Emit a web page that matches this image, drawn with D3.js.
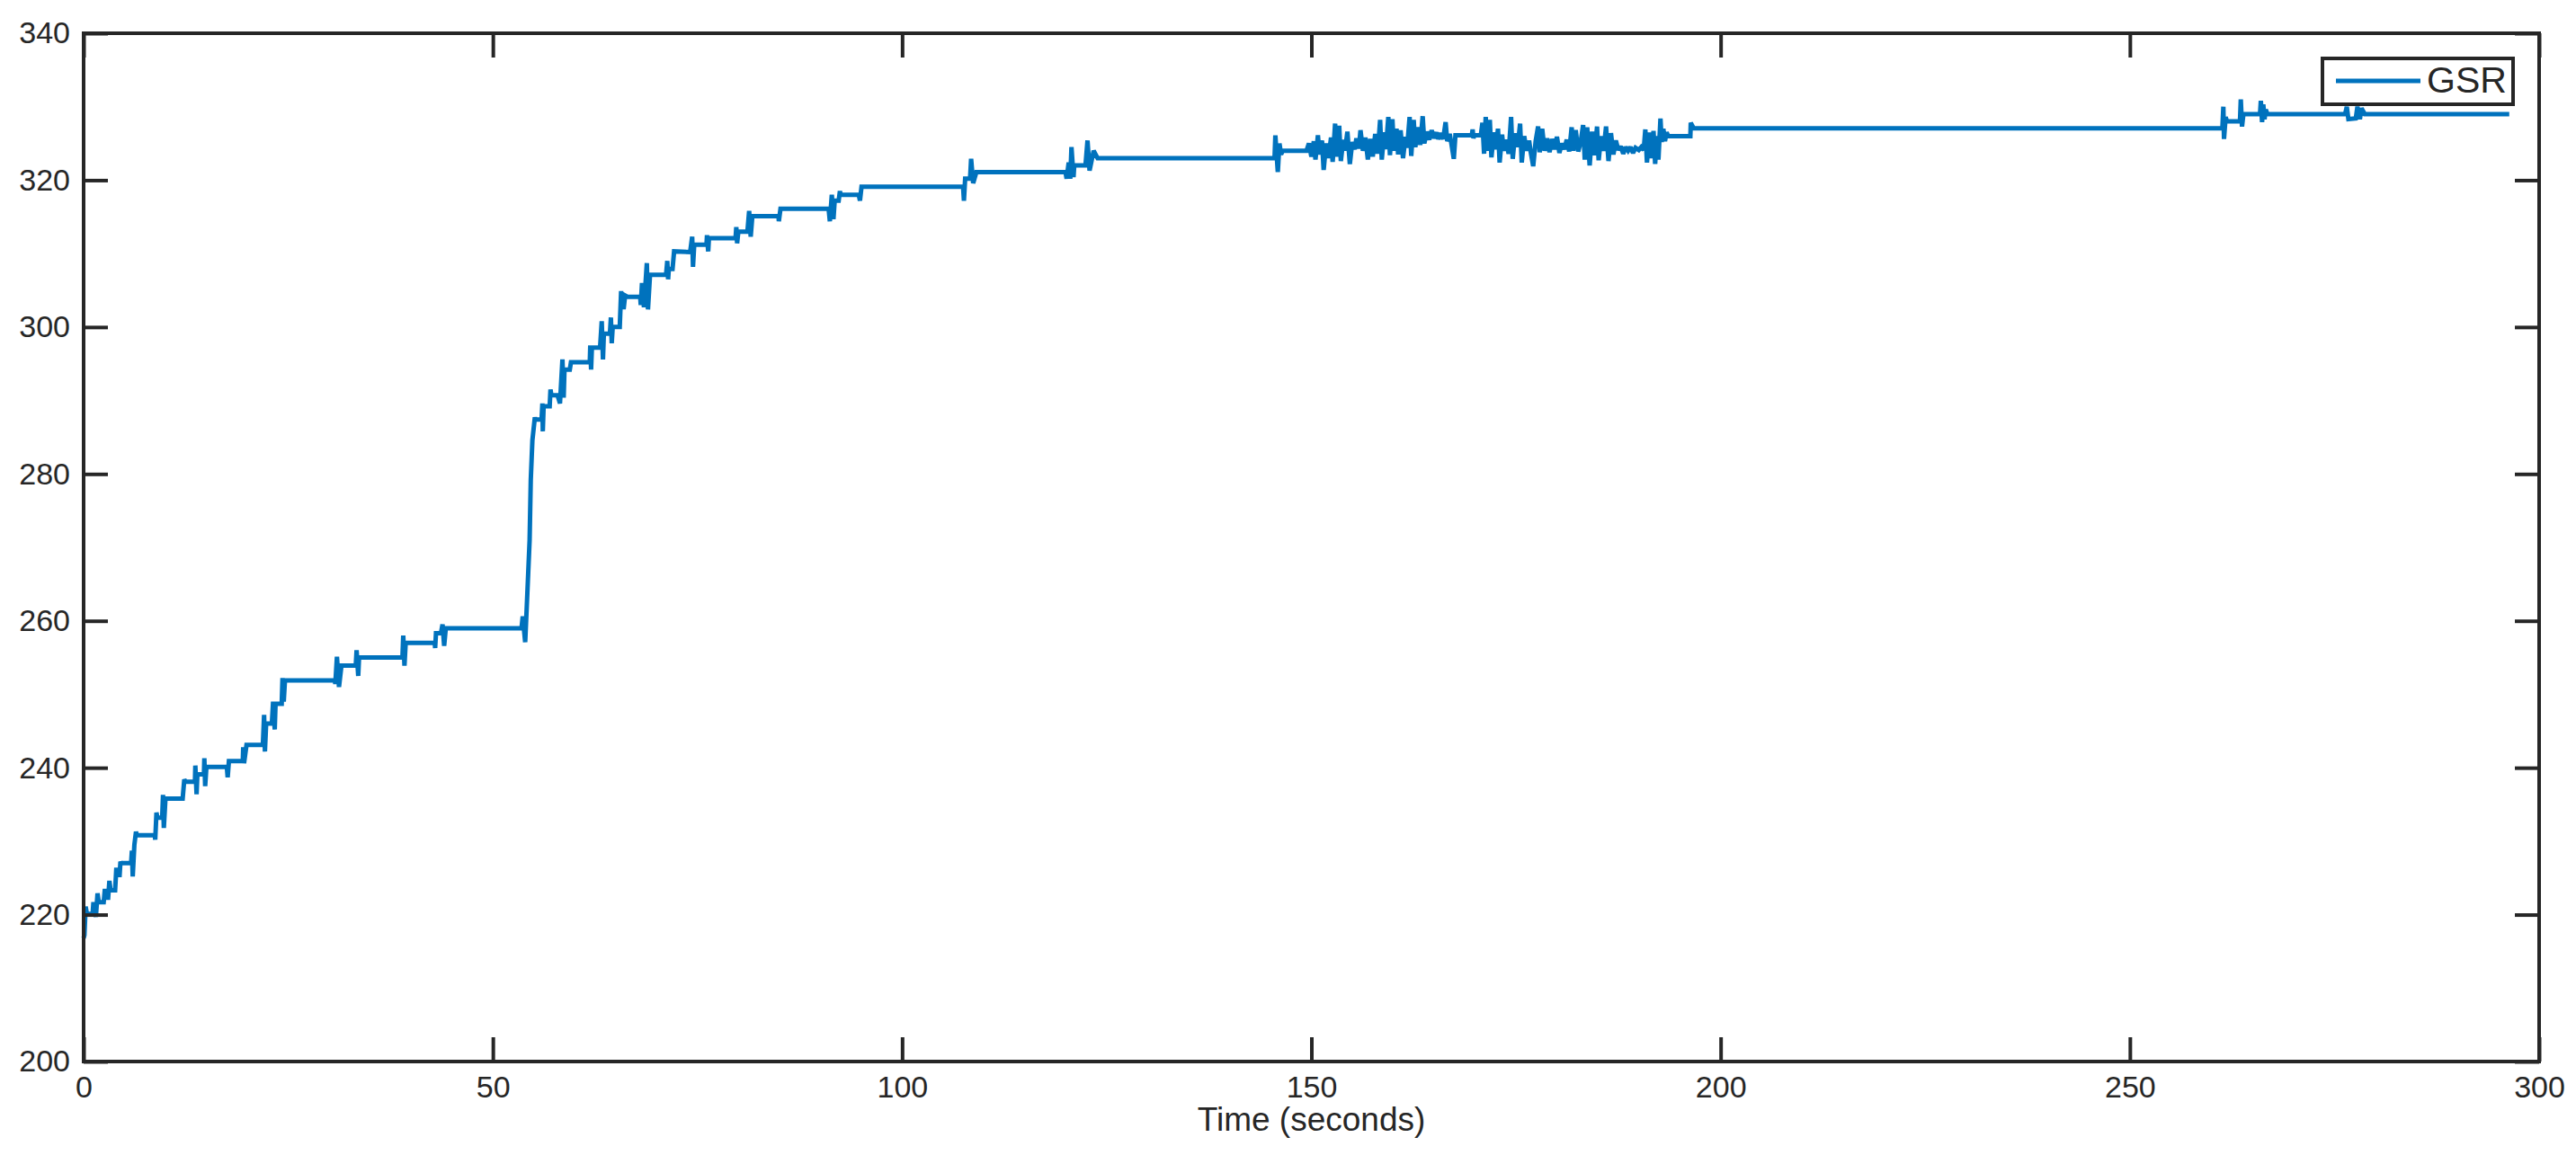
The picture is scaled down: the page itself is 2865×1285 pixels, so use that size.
<!DOCTYPE html>
<html>
<head>
<meta charset="utf-8">
<script src="https://cdn.jsdelivr.net/npm/d3@7"></script>
<style>
  html, body { margin: 0; padding: 0; background: #ffffff; }
  svg { display: block; }
  text { font-family: "Liberation Sans", Arial, Helvetica, sans-serif; fill: #262626; }
</style>
</head>
<body>
<svg id="chart" width="2865" height="1285"></svg>
<script>
// ---------------- data ----------------
const seriesName = "GSR";
const xLabel = "Time (seconds)";
const xTicks = [0, 50, 100, 150, 200, 250, 300];
const yTicks = [200, 220, 240, 260, 280, 300, 320, 340];

const time = [
  0.0, 0.1, 0.25, 0.4, 1.1, 1.2, 1.5, 1.7, 1.85, 2.45, 2.6, 2.75, 3.0, 3.15, 3.3, 3.85, 4.0, 4.1, 4.4, 4.5, 4.6, 5.8, 5.9, 6.0, 6.2, 6.4, 6.5, 8.7, 8.75, 8.9, 9.0, 9.6, 9.7, 9.8, 10.0, 12.1, 12.3, 12.45, 13.6, 13.65, 13.8, 13.9, 14.7, 14.75, 14.85, 15.0, 17.5, 17.6, 17.75, 19.45, 19.5, 19.6, 19.9, 21.9, 22.05, 22.15, 22.3, 23.0, 23.15, 23.35, 23.45, 24.2, 24.3, 24.45, 24.6, 30.7, 30.75, 30.95, 31.2, 31.5, 33.25, 33.35, 33.55, 33.65, 38.95, 39.05, 39.2, 39.35, 42.9, 42.95, 43.05, 43.65, 43.85, 44.05, 44.25, 53.5,
  53.65, 53.95, 54.24, 54.49, 54.63, 54.83, 55.13, 55.2, 55.95, 56.05, 56.1, 56.2, 56.94, 57.04, 57.15, 57.9, 58.2, 58.5, 58.65, 58.75, 59.4, 59.54, 61.84, 61.9, 62.0, 62.1, 63.1, 63.3, 63.45, 63.56, 64.3, 64.42, 64.52, 64.64, 65.5, 65.67, 65.77, 66.0, 66.16, 66.5, 68.0, 68.07, 68.22, 68.46, 68.81, 68.95, 69.2, 71.16, 71.31, 71.41, 71.5, 71.95, 72.14, 74.1, 74.35, 74.45, 74.6, 76.1, 76.16, 76.31, 76.4, 79.65, 79.74, 79.84, 79.99, 81.1, 81.31, 81.5, 81.7, 84.9, 84.94, 85.14, 91.02, 91.17, 91.41, 91.61, 91.76, 92.25, 92.4, 92.5, 94.7, 94.85, 95.04, 107.45, 107.55, 107.7, 108.3, 108.43, 108.68, 109.07, 119.96, 120.1, 120.35, 120.54, 120.69, 120.94, 121.03, 122.4, 122.65, 122.9, 123.4, 123.88, 145.5,
  145.6, 145.9, 146.1, 146.3, 146.5, 149.4, 149.7, 150.0, 150.3, 150.5, 150.8, 151.0, 151.3, 151.5, 151.8, 152.1, 152.4, 152.6, 152.9, 153.1, 153.4, 153.6, 153.9, 154.1, 154.4, 154.7, 155.0, 155.3, 155.5, 155.8, 156.0, 156.3, 156.6, 156.9, 157.2, 157.5, 157.8, 158.1, 158.4, 158.6, 158.9, 159.1, 159.4, 159.6, 159.9, 160.1, 160.4, 160.6, 160.9, 161.2, 161.5, 161.7, 162.0, 162.2, 162.5, 162.7, 163.0, 163.3, 163.6, 163.8, 164.1, 164.4, 164.7, 165.0, 165.3, 165.5, 165.8, 166.1, 166.4, 166.6, 166.9, 167.1, 167.4, 167.6, 169.6, 169.7, 169.8, 169.9, 170.7, 170.9, 171.1, 171.3, 171.5, 171.8, 172.0, 172.3, 172.5, 172.8, 173.0, 173.3, 173.5, 173.8, 174.1, 174.4, 174.6, 174.9, 175.2, 175.5, 175.7, 176.0, 176.3, 176.6, 176.8, 177.1, 177.4, 177.7, 177.9, 178.2, 178.5, 178.8, 179.1, 179.4, 179.7, 180.0, 180.3, 180.6, 180.9, 181.2, 181.5, 181.8, 182.0, 182.3, 182.6, 182.9, 183.2, 183.4, 183.7, 184.0, 184.3, 184.6, 184.9, 185.1, 185.4, 185.7, 186.0, 186.3, 186.6, 186.9, 187.2, 187.5, 187.8, 188.1, 188.4, 188.7, 189.0, 189.3, 189.6, 190.0, 190.3, 190.6, 190.8, 191.0, 191.3, 191.5, 191.8, 192.0, 192.2, 192.4, 192.65, 192.8, 193.0, 193.2, 193.4, 193.6, 196.3, 196.35, 196.6, 196.7,
  261.3, 261.42, 261.5, 261.7, 261.86, 263.45, 263.55, 263.7, 263.87, 265.9, 266.0, 266.15, 266.3, 266.45, 266.6, 266.8, 276.3, 276.5, 276.7, 277.6, 277.8, 278.1, 278.3, 278.7, 296.35
];

const gsr = [
  216.8, 217.2, 221.1, 220.1, 220.1, 221.7, 219.7, 222.9, 221.7, 221.7, 223.5, 222.3, 222.3, 224.6, 223.3, 223.3, 226.4, 225.4, 225.4, 227.2, 227.0, 227.0, 228.7, 225.2, 229.5, 231.3, 230.8, 230.8, 230.2, 233.9, 233.2, 233.2, 236.3, 231.8, 235.8, 235.8, 238.4, 238.1, 238.1, 240.3, 236.4, 239.1, 239.1, 241.3, 237.5, 240.1, 240.1, 238.7, 240.9, 240.9, 242.8, 240.6, 243.1, 243.1, 247.2, 242.2, 246.0, 246.0, 249.0, 245.2, 248.7, 248.7, 252.2, 249.0, 251.9, 251.9, 251.4, 255.1, 251.0, 253.9, 253.9, 256.0, 252.5, 255.0, 255.0, 258.0, 253.9, 257.0, 257.0, 256.3, 258.3, 258.3, 259.5, 256.6, 259.0, 259.0,
  260.6, 257.1, 264.5, 271.0, 279.2, 284.6, 287.7, 287.4, 287.4, 289.6, 285.8, 289.2, 289.2, 291.5, 290.7, 290.7, 289.6, 295.6, 290.4, 294.2, 294.2, 295.2, 295.2, 297.5, 294.2, 297.2, 297.2, 300.8, 295.6, 299.1, 299.1, 301.3, 297.8, 300.0, 300.0, 304.9, 302.7, 302.7, 304.3, 304.1, 304.1, 303.0, 306.0, 302.7, 308.7, 302.4, 307.1, 307.1, 309.0, 306.5, 307.9, 307.9, 310.3, 310.2, 312.3, 308.2, 311.2, 311.2, 312.5, 310.3, 312.1, 312.1, 313.6, 311.4, 313.0, 313.0, 315.8, 312.3, 315.1, 315.1, 314.4, 316.1, 316.1, 314.4, 318.0, 314.7, 317.2, 317.2, 318.5, 318.0, 318.0, 317.2, 319.1, 319.1, 317.2, 320.2, 320.2, 322.9, 319.6, 321.1, 321.1, 320.2, 322.4, 320.2, 324.5, 320.4, 322.0, 322.0, 325.4, 321.3, 324.0, 323.0, 323.0,
  326.1, 321.1, 325.0, 323.5, 324.0, 324.0, 325.0, 323.2, 325.3, 322.8, 326.1, 323.5, 325.4, 321.4, 325.0, 323.0, 325.8, 322.5, 327.7, 323.2, 327.4, 322.6, 325.5, 324.0, 326.6, 322.2, 325.2, 324.2, 325.7, 324.3, 326.8, 324.0, 325.8, 322.8, 325.6, 323.2, 326.3, 323.6, 328.2, 322.8, 326.5, 324.2, 328.6, 323.4, 328.3, 324.0, 327.0, 323.5, 326.8, 323.0, 325.9, 324.4, 328.6, 323.3, 328.2, 324.5, 327.2, 324.8, 328.7, 325.0, 326.6, 325.5, 326.8, 325.7, 326.5, 325.6, 326.4, 325.6, 327.9, 325.3, 326.3, 325.0, 322.9, 326.1, 326.1, 326.9, 325.7, 326.1, 326.1, 327.8, 323.6, 328.6, 324.0, 328.2, 323.1, 326.5, 324.2, 327.0, 322.4, 326.2, 324.0, 325.5, 323.6, 328.6, 322.9, 326.4, 324.5, 327.7, 322.4, 326.0, 324.0, 325.4, 323.8, 321.9, 325.3, 327.3, 323.8, 327.0, 324.0, 325.7, 323.8, 325.6, 324.2, 325.9, 323.7, 325.0, 324.2, 325.5, 323.9, 327.2, 324.0, 326.8, 323.9, 325.2, 327.5, 322.8, 327.2, 322.0, 326.6, 323.4, 327.3, 322.7, 326.0, 324.0, 327.3, 322.6, 326.4, 323.5, 325.4, 324.1, 324.6, 323.6, 324.5, 324.0, 324.5, 323.7, 324.4, 324.1, 324.5, 324.1, 326.9, 322.4, 326.5, 323.0, 326.7, 322.2, 326.0, 322.8, 328.4, 325.2, 327.0, 325.3, 326.5, 326.0, 326.0, 327.8, 327.3, 327.05,
  327.05, 330.0, 325.6, 328.6, 328.0, 328.0, 331.0, 327.3, 329.0, 329.0, 330.8, 327.9, 330.3, 328.3, 329.6, 329.0, 329.0, 330.0, 328.3, 328.4, 330.0, 328.3, 329.8, 329.0, 329.0
];

// ---------------- layout ----------------
const W = 2865, H = 1285;
const plot = { left: 93, right: 2824, top: 37, bottom: 1181 };
const axisColor = "#262626";
const lineColor = "#0072BD";
const lineWidth = 5;

const svg = d3.select("#chart");
svg.append("rect").attr("width", W).attr("height", H).attr("fill", "#ffffff");

const x = d3.scaleLinear().domain([0, 300]).range([plot.left, plot.right]);
const y = d3.scaleLinear().domain([200, 340]).range([plot.bottom, plot.top]);

const data = time.map((t, i) => ({ t, v: gsr[i] }));

// line
const line = d3.line().x(d => x(d.t)).y(d => y(d.v));
svg.append("path")
  .datum(data)
  .attr("d", line)
  .attr("fill", "none")
  .attr("stroke", lineColor)
  .attr("stroke-width", lineWidth)
  .attr("stroke-linejoin", "miter")
  .attr("stroke-miterlimit", 2);

// axes
const tickLen = 27;
const fontSize = 34;

function styleAxis(g) {
  g.select(".domain").remove();
  g.selectAll(".tick line").attr("stroke", axisColor).attr("stroke-width", 4);
  g.selectAll(".tick text").attr("font-size", fontSize).attr("fill", axisColor)
    .style("font-family", '"Liberation Sans", Arial, Helvetica, sans-serif');
}

svg.append("g")
  .attr("transform", `translate(0,${plot.bottom})`)
  .call(d3.axisBottom(x).tickValues(xTicks).tickFormat(d3.format("d"))
    .tickSizeInner(-tickLen).tickSizeOuter(0).tickPadding(16))
  .call(styleAxis);

svg.append("g")
  .attr("transform", `translate(${plot.left},0)`)
  .call(d3.axisLeft(y).tickValues(yTicks).tickFormat(d3.format("d"))
    .tickSizeInner(-tickLen).tickSizeOuter(0).tickPadding(15))
  .call(styleAxis);

svg.append("g")
  .attr("transform", `translate(0,${plot.top})`)
  .call(d3.axisTop(x).tickValues(xTicks).tickFormat("")
    .tickSizeInner(-tickLen).tickSizeOuter(0))
  .call(styleAxis);

svg.append("g")
  .attr("transform", `translate(${plot.right},0)`)
  .call(d3.axisRight(y).tickValues(yTicks).tickFormat("")
    .tickSizeInner(-tickLen).tickSizeOuter(0))
  .call(styleAxis);

// box
svg.append("rect")
  .attr("x", plot.left).attr("y", plot.top)
  .attr("width", plot.right - plot.left).attr("height", plot.bottom - plot.top)
  .attr("fill", "none").attr("stroke", axisColor).attr("stroke-width", 4);

// x label
svg.append("text")
  .attr("x", (plot.left + plot.right) / 2)
  .attr("y", 1258)
  .attr("text-anchor", "middle")
  .attr("font-size", 37)
  .text(xLabel);

// legend
const leg = svg.append("g");
leg.append("rect")
  .attr("x", 2583).attr("y", 65).attr("width", 212).attr("height", 51)
  .attr("fill", "#ffffff").attr("stroke", axisColor).attr("stroke-width", 4);
leg.append("line")
  .attr("x1", 2598).attr("x2", 2692).attr("y1", 90).attr("y2", 90)
  .attr("stroke", lineColor).attr("stroke-width", lineWidth);
leg.append("text")
  .attr("x", 2699).attr("y", 103)
  .attr("font-size", 41)
  .text(seriesName);
</script>
</body>
</html>
